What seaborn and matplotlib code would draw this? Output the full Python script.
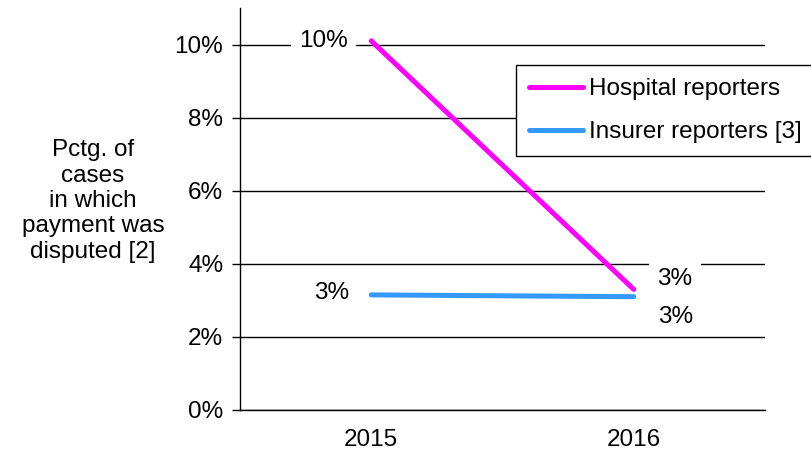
import pandas as pd
import seaborn as sns
import matplotlib.pyplot as plt
from matplotlib.ticker import PercentFormatter

anos = ['2015', '2016']
hospital = [10.1, 3.3]
seguradora = [3.15, 3.1]
rotulos_hospital = ['10%', '3%']
rotulos_seguradora = ['3%', '3%']
series = ['Hospital reporters', 'Insurer reporters [3]']
cores = ['#ff00ff', '#3399ff']

df = pd.DataFrame({
    'Ano': anos * 2,
    'Valor': hospital + seguradora,
    'Serie': [series[0]] * 2 + [series[1]] * 2,
})

sns.set_style('white')
plt.rcParams['font.family'] = ['Liberation Sans', 'DejaVu Sans']
plt.rcParams['text.color'] = 'black'
plt.rcParams['axes.labelcolor'] = 'black'
plt.rcParams['xtick.color'] = 'black'
plt.rcParams['ytick.color'] = 'black'

tam = 17.5

fig = plt.figure(figsize=(8.12, 4.51), dpi=100)
ax = fig.add_axes([240 / 812, 41 / 451, 525 / 812, 402 / 451])

sns.lineplot(data=df, x='Ano', y='Valor', hue='Serie', palette=cores,
             linewidth=3.6, solid_capstyle='round', ax=ax, legend=True, zorder=3)

ax.set_ylim(0, 11)
ax.set_xlim(-0.5, 1.5)
ax.set_yticks([0, 2, 4, 6, 8, 10])
ax.yaxis.set_major_formatter(PercentFormatter(decimals=0))
ax.grid(axis='y', color='black', linewidth=1.0)
ax.set_axisbelow(True)
ax.tick_params(axis='y', length=6, width=1.0, color='black', labelsize=tam, pad=6, left=True)
ax.tick_params(axis='x', length=0, labelsize=tam, pad=14)
for lado in ['top', 'right']:
    ax.spines[lado].set_visible(False)
ax.spines['left'].set_color('black')
ax.spines['bottom'].set_color('black')
ax.spines['left'].set_linewidth(1.0)
ax.spines['bottom'].set_linewidth(1.0)
ax.set_xlabel('')

ax.set_ylabel('Pctg. of\ncases\nin which\npayment was\ndisputed [2]', rotation=0,
              fontsize=tam, ha='center', va='center', linespacing=1.2)
ax.yaxis.set_label_coords(-0.28, 0.52)

caixa = dict(facecolor='white', edgecolor='none', pad=6)
desloc_h = [(-48, 0), (41, 10)]
desloc_s = [(-40, 2), (42, -20)]
for i in range(2):
    ax.annotate(rotulos_hospital[i], (i, hospital[i]), xytext=desloc_h[i],
                textcoords='offset pixels', ha='center', va='center',
                fontsize=tam, bbox=caixa, zorder=4)
    ax.annotate(rotulos_seguradora[i], (i, seguradora[i]), xytext=desloc_s[i],
                textcoords='offset pixels', ha='center', va='center',
                fontsize=tam, zorder=4)

leg = ax.legend(loc='upper left', bbox_to_anchor=(516 / 812, 1 - 65 / 451),
                bbox_transform=fig.transFigure, frameon=True, fancybox=False,
                fontsize=tam, handlelength=2.2, handletextpad=0.25,
                labelspacing=0.85, borderpad=0.55, borderaxespad=0)
leg.get_frame().set_edgecolor('black')
leg.get_frame().set_linewidth(1.0)
leg.get_frame().set_alpha(1)

fig.savefig('out.png', dpi=100)
